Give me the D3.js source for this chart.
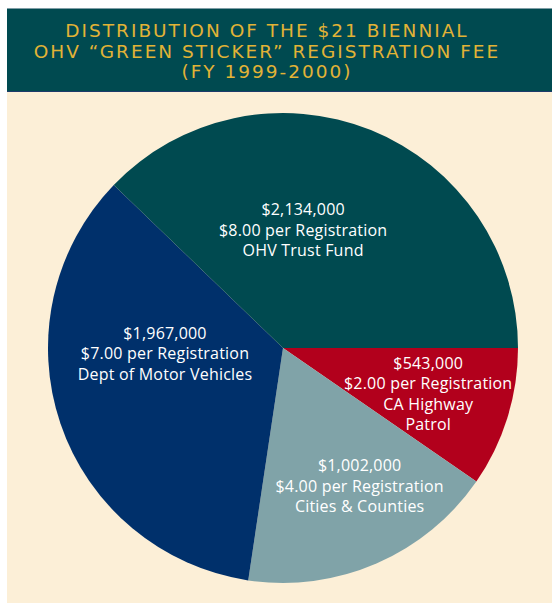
<!DOCTYPE html>
<html>
<head>
<meta charset="utf-8">
<script src="https://cdn.jsdelivr.net/npm/d3@7"></script>
<style>
  body { margin: 0; background: #fff; }
  svg { display: block; }
</style>
</head>
<body>
<div id="chart"></div>
<script>
// values
var recipients = ["OHV Trust Fund", "CA Highway Patrol", "Cities & Counties", "Dept of Motor Vehicles"];
var amounts = [2134000, 543000, 1002000, 1967000];
var perRegistration = [8.00, 2.00, 4.00, 7.00];
var titleLines = ["DISTRIBUTION OF THE $21 BIENNIAL", "OHV \u201CGREEN STICKER\u201D REGISTRATION FEE", "(FY 1999-2000)"];

// draw order round the clock, starting at 3 o'clock going clockwise
var pieOrder = ["CA Highway Patrol", "Cities & Counties", "Dept of Motor Vehicles", "OHV Trust Fund"];

var COLORS = {
  "OHV Trust Fund": "#004a50",
  "CA Highway Patrol": "#b2001c",
  "Cities & Counties": "#80a3a8",
  "Dept of Motor Vehicles": "#00306b"
};
// label wrapping for the highway patrol slice
var LABEL_NAME_LINES = {
  "CA Highway Patrol": ["CA Highway", "Patrol"]
};
// small nudges off the arc centroid, as placed in the original
var LABEL_NUDGE = {
  "OHV Trust Fund": [-36, 21],
  "CA Highway Patrol": [2, 1],
  "Cities & Counties": [17, 0],
  "Dept of Motor Vehicles": [24, -43]
};

var WIDTH = 552, HEIGHT = 603;
var CX = 283, CY = 348, R = 235, LABEL_R = 150;

var svg = d3.select("#chart").append("svg")
  .attr("width", WIDTH)
  .attr("height", HEIGHT);

// cream panel + header band
svg.append("rect")
  .attr("x", 7).attr("y", 8)
  .attr("width", WIDTH - 7).attr("height", HEIGHT - 8)
  .attr("fill", "#fcefd7");

svg.append("rect")
  .attr("x", 7).attr("y", 8)
  .attr("width", WIDTH - 7).attr("height", 84)
  .attr("fill", "#004a50");
svg.append("line")
  .attr("x1", 7).attr("x2", WIDTH).attr("y1", 8.5).attr("y2", 8.5)
  .attr("stroke", "#7f9ea6").attr("stroke-width", 1);
svg.append("line")
  .attr("x1", 7).attr("x2", WIDTH).attr("y1", 91.5).attr("y2", 91.5)
  .attr("stroke", "#1d3a6a").attr("stroke-width", 1);

svg.append("g")
  .selectAll("text")
  .data(titleLines)
  .join("text")
  .attr("x", 267)
  .attr("y", (d, i) => 37 + i * 20.5)
  .attr("text-anchor", "middle")
  .attr("fill", "#e2b336")
  .style("font-family", "'DejaVu Sans', sans-serif")
  .style("font-size", "18.5px")
  .style("letter-spacing", "2px")
  .text(d => d);

// pie
var data = pieOrder.map(function (name) {
  var i = recipients.indexOf(name);
  return { name: name, amount: amounts[i], per: perRegistration[i] };
});

var pie = d3.pie()
  .sort(null)
  .value(d => d.amount)
  .startAngle(Math.PI / 2)
  .endAngle(Math.PI / 2 + 2 * Math.PI);

var arc = d3.arc().innerRadius(0).outerRadius(R);
var labelArc = d3.arc().innerRadius(LABEL_R).outerRadius(LABEL_R);

var g = svg.append("g")
  .attr("transform", "translate(" + CX + "," + CY + ")");

var arcs = pie(data);

g.selectAll("path")
  .data(arcs)
  .join("path")
  .attr("d", arc)
  .attr("fill", d => COLORS[d.data.name]);

var fmt = d3.format(",");
var labels = g.selectAll("text.label")
  .data(arcs)
  .join("text")
  .attr("class", "label")
  .attr("text-anchor", "middle")
  .attr("fill", "#ffffff")
  .style("font-family", "'Open Sans', sans-serif")
  .style("font-size", "16px")
  .style("letter-spacing", "0.2px");

labels.each(function (d) {
  var c = labelArc.centroid(d);
  var n = LABEL_NUDGE[d.data.name];
  var lines = ["$" + fmt(d.data.amount), "$" + d.data.per.toFixed(2) + " per Registration"]
    .concat(LABEL_NAME_LINES[d.data.name] || [d.data.name]);
  var lh = 20.5;
  var y0 = c[1] + n[1] - (lines.length - 1) * lh / 2 + 6;
  d3.select(this).selectAll("tspan")
    .data(lines)
    .join("tspan")
    .attr("x", c[0] + n[0])
    .attr("y", (t, i) => y0 + i * lh)
    .text(t => t);
});
</script>
</body>
</html>
